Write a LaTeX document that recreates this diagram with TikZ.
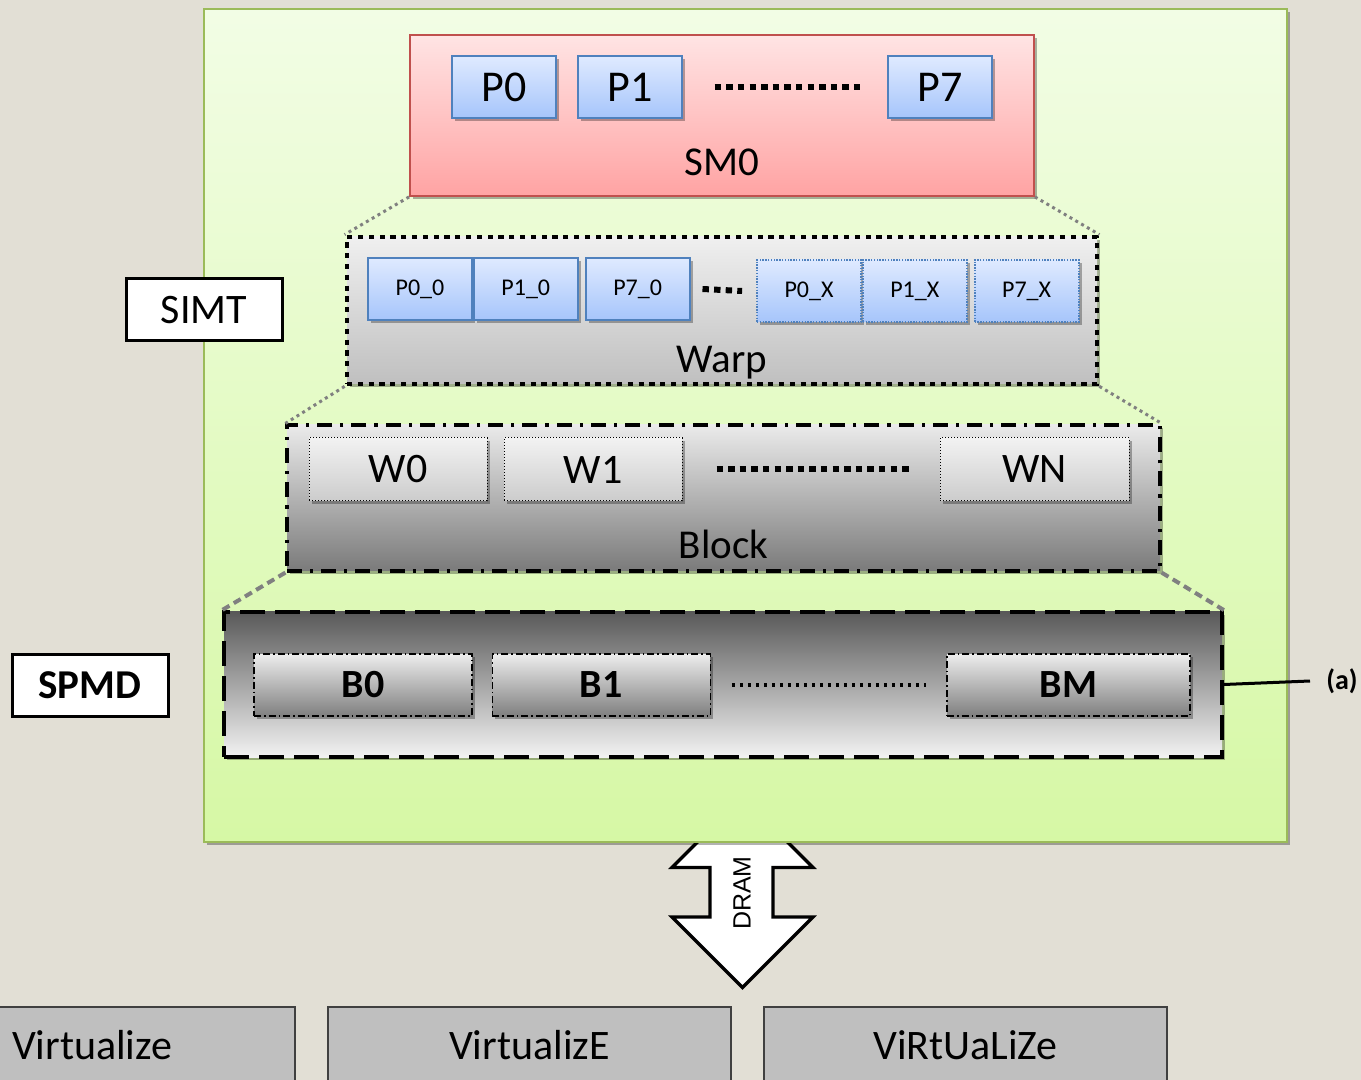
\documentclass[tikz,border=0pt]{standalone}
\usepackage{fontspec}
\setmainfont{Carlito}
\newfontfamily\dramfont{Liberation Sans}
\usepackage{tikz}
\usetikzlibrary{positioning, shadows}
\definecolor{slidebg}{HTML}{E2DFD5}
\definecolor{chiptop}{HTML}{F2FDE5}
\definecolor{chipbot}{HTML}{D6F8A5}
\definecolor{chipline}{HTML}{9BBB59}
\definecolor{smtop}{HTML}{FFE4E4}
\definecolor{smbot}{HTML}{FFA3A3}
\definecolor{smline}{HTML}{C0504D}
\definecolor{ptop}{HTML}{DFEAFF}
\definecolor{pbot}{HTML}{A6C5FB}
\definecolor{pline}{HTML}{4F81BD}
\newcommand{\fs}[1]{\fontsize{#1}{1.2\dimexpr#1\relax}\selectfont}

\begin{document}
\begin{tikzpicture}[
  x=0.5pt, y=-0.5pt,
  softshadow/.style = {drop shadow={shadow xshift=1.5pt, shadow yshift=-1.5pt,
                       opacity=.3, fill=black}},
  chip/.style     = {draw=chipline, line width=.6pt, top color=chiptop,
                     bottom color=chipbot, softshadow},
  smbox/.style    = {draw=smline, line width=.9pt, top color=smtop,
                     bottom color=smbot, softshadow},
  pbox/.style     = {draw=pline, line width=.9pt, top color=ptop,
                     bottom color=pbot, minimum width=52pt, minimum height=31pt,
                     inner sep=0pt, font=\fs{22pt}, softshadow},
  psmall/.style   = {pbox, font=\fs{12pt}},
  pxbox/.style    = {psmall, dash pattern=on .7pt off .7pt},
  warpbox/.style  = {draw=black, line width=2.4pt, dash pattern=on 2.6pt off 2.8pt,
                     top color=black!6, bottom color=black!25, softshadow},
  blockbox/.style = {draw=black, line width=1.6pt,
                     dash pattern=on 7.5pt off 4pt on 1.6pt off 4pt,
                     top color=black!8, middle color=black!38, bottom color=black!52,
                     softshadow},
  gridbox/.style  = {draw=black, line width=1.9pt, dash pattern=on 12.5pt off 5pt,
                     top color=black!65, bottom color=black!5, softshadow},
  wbox/.style     = {draw=black, line width=.5pt, densely dotted,
                     top color=black!5, bottom color=black!20, minimum width=89pt,
                     minimum height=31.5pt, inner sep=0pt, font=\fs{21pt}, softshadow},
  bbox/.style     = {draw=black, line width=.6pt,
                     dash pattern=on 3.5pt off 1.5pt on .8pt off 1.5pt,
                     top color=black!7, bottom color=black!50, minimum width=109pt,
                     minimum height=31pt, inner sep=0pt, font=\fs{20pt}\bfseries,
                     softshadow},
  tagbox/.style   = {draw=black, line width=1.5pt, fill=white, minimum width=78pt,
                     minimum height=31pt, inner sep=0pt},
  vbox/.style     = {draw=black!75, line width=.6pt, fill=black!25,
                     minimum height=38pt, font=\fs{21pt}},
  boxname/.style  = {font=\fs{20.5pt}, anchor=base, inner sep=0pt},
  link/.style     = {black!50, line width=1.5pt, dash pattern=on 1.5pt off 1.85pt},
  dashlink/.style = {black!50, line width=2pt, dash pattern=on 4pt off 2.5pt},
  ellip/.style    = {line width=3pt, dash pattern=on 3.2pt off 2.6pt},
  fineellip/.style= {line width=1.6pt, dash pattern=on 1.6pt off 2.4pt}
]
\fill[slidebg] (0,0) rectangle (1361,1080);
\useasboundingbox (0,0) rectangle (1361,1080);

% memory arrow, its upper head hidden under the chip
\draw[line width=1.6pt, fill=white, line join=miter]
  (742.5,797) -- (813,867.5) -- (773,867.5) -- (773,917) -- (813,917)
  -- (742.5,987.5) -- (672,917) -- (710,917) -- (710,867.5) -- (672,867.5) -- cycle;
\node[rotate=90, font=\dramfont\fontsize{12.5pt}{15pt}\selectfont] (dram)
  at (742,893) {DRAM};

\node[chip, minimum width=541.5pt, minimum height=416.5pt] (chip) at (745.5,425.5) {};

% streaming multiprocessor
\node[smbox, minimum width=312pt, minimum height=80.5pt,
      label={[boxname, yshift=10.5pt]south:SM0}] (sm) at (722,115.5) {};
\node[pbox] (p0) at (504,87) {P0};
\node[pbox, right=10pt of p0] (p1) {P1};
\node[pbox] (p7) at (940,87) {P7};
\draw[ellip] ([xshift=16pt]p1.east) -- ([xshift=-13pt]p7.west);

% warp
\node[warpbox, minimum width=375pt, minimum height=73.5pt,
      label={[boxname, yshift=7pt]south:Warp}] (warp) at (722,310.5) {};
\node[psmall] (p00) at (420,289) {P0\_0};
\node[psmall, right=0pt of p00] (p10) {P1\_0};
\node[psmall, right=3pt of p10] (p70) {P7\_0};
\node[pxbox] (p0x) at (809,291) {P0\_X};
\node[pxbox, right=0pt of p0x] (p1x) {P1\_X};
\node[pxbox, right=3pt of p1x] (p7x) {P7\_X};
\draw[ellip] ([xshift=6pt]p70.east) -- ([xshift=-7pt]p0x.west);

% block
\node[blockbox, minimum width=436.5pt, minimum height=73pt,
      label={[boxname, yshift=7pt]south:Block}] (block) at (723.5,498) {};
\node[wbox] (w0) at (398,469.5) {W0};
\node[wbox, right=8pt of w0] (w1) {W1};
\node[wbox, minimum width=94.5pt] (wn) at (1034.5,469.5) {WN};
\draw[ellip] ([xshift=17pt]w1.east) -- ([xshift=-13.5pt]wn.west);

% grid
\node[gridbox, minimum width=499pt, minimum height=72.5pt] (grid) at (723,684.5) {};
\node[bbox] (b0) at (363,685) {B0};
\node[bbox, right=9.5pt of b0] (b1) {B1};
\node[bbox, minimum width=121.5pt] (bm) at (1068.5,685) {BM};
\draw[fineellip] ([xshift=10.5pt]b1.east) -- ([xshift=-10pt]bm.west);

% zoom lines between levels
\draw[link] (sm.south west) -- (warp.north west);
\draw[link] (sm.south east) -- (warp.north east);
\draw[link] (warp.south west) -- (block.north west);
\draw[link] (warp.south east) -- (block.north east);
\draw[dashlink] (block.south west) -- (grid.north west);
\draw[dashlink] (block.south east) -- (grid.north east);

\node[tagbox, font=\fs{21pt}] (simt) at (204,310) {SIMT};
\node[tagbox, font=\fs{20.5pt}\bfseries] (spmd) at (90,685) {SPMD};

\node[anchor=west, inner xsep=8pt, font=\fs{14pt}\bfseries] (alab) at (1310,681) {(a)};
\draw[line width=1.5pt] (grid.east) -- (alab.west);

% bottom row
\node[vbox, text width=130.5pt, align=left, inner xsep=11pt] (virt1) at (142.5,1045) {Virtualize};
\node[vbox, minimum width=201.5pt] (virt2) at (529.5,1045) {VirtualizE};
\node[vbox, minimum width=201.5pt] (virt3) at (965.5,1045) {ViRtUaLiZe};
\end{tikzpicture}
\end{document}
